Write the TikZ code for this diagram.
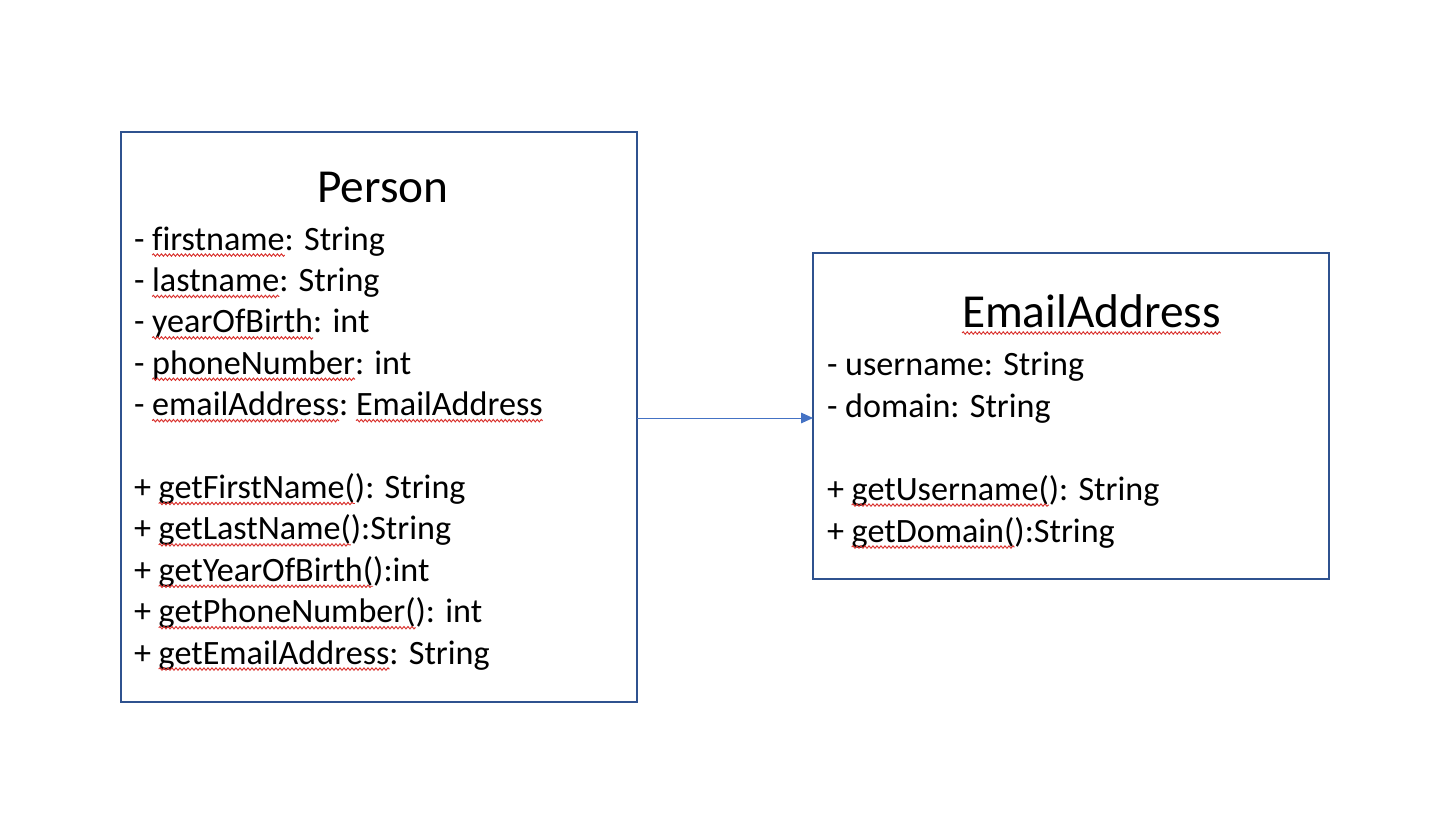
\documentclass[tikz,border=0pt]{standalone}
\usepackage{fontspec}
\setmainfont{Carlito}[Ligatures=CommonOff]
\usetikzlibrary{arrows.meta,decorations.pathmorphing}
\definecolor{boxblue}{HTML}{2F528F}
\definecolor{arrowblue}{HTML}{4472C4}
\definecolor{spellred}{HTML}{D9302C}
\tikzset{
  classbox/.style={draw=boxblue, line width=1.5pt, fill=white, inner sep=0pt, outer sep=0pt},
  txt/.style={anchor=base west, inner sep=0pt, outer sep=0pt, font=\fontsize{25.6}{30}\selectfont},
  titletxt/.style={anchor=base, inner sep=0pt, outer sep=0pt, font=\fontsize{35.5}{42}\selectfont},
  wave/.style={draw=spellred, line width=0.7pt, decorate, decoration={snake, segment length=3pt, amplitude=0.9pt}},
  assoc/.style={draw=arrowblue, line width=0.75pt, -{Triangle[length=9pt, width=8pt]}}
}
\newcommand\wln[6]{%
  \node[txt] (#1a) at (#2,#3) {#4};
  \node[txt] (#1b) at (#1a.base east) {#5};
  \node[txt] (#1c) at (#1b.base east) {#6};
  \draw[wave] ([yshift=-3.8pt]#1b.base west) -- ([yshift=-3.8pt]#1b.base east);
}
\newcommand\umlsp{\ \null}
\begin{document}
\begin{tikzpicture}[x=0.75pt, y=-0.75pt]
  \useasboundingbox[fill=white] (0,0) rectangle (1442,838);
  % boxes
  \node[classbox, minimum width=387pt, minimum height=427.5pt] (person) at (379,417) {};
  \node[classbox, minimum width=387pt, minimum height=244.5pt] (email) at (1071,416) {};
  % association
  \draw[assoc] ([yshift=-0.75pt]person.east) -- ([yshift=-0.75pt]person.east -| email.west);
  % Person
  \node[titletxt] (ptitle) at (383,203) {Person};
  \wln{pa}{134}{250}{-\umlsp}{firstname}{: String}
  \wln{pb}{134}{291.4}{-\umlsp}{lastname}{: String}
  \wln{pc}{134}{332.8}{-\umlsp}{yearOfBirth}{: int}
  \wln{pd}{134}{374.2}{-\umlsp}{phoneNumber}{: int}
  \wln{pe}{134}{415.6}{-\umlsp}{emailAddress}{:\umlsp}
  \node[txt] (ped) at (pec.base east) {EmailAddress};
  \draw[wave] ([yshift=-3.8pt]ped.base west) -- ([yshift=-3.8pt]ped.base east);
  \wln{ma}{134}{498.4}{+\umlsp}{getFirstName(}{): String}
  \wln{mb}{134}{539.8}{+\umlsp}{getLastName(}{):String}
  \wln{mc}{134}{581.2}{+\umlsp}{getYearOfBirth(}{):int}
  \wln{md}{134}{622.6}{+\umlsp}{getPhoneNumber(}{): int}
  \wln{me}{134}{664}{+\umlsp}{getEmailAddress}{: String}
  % EmailAddress
  \node[titletxt, anchor=base west] (etitle) at (962,327) {EmailAddress};
  \draw[wave] ([yshift=-4.5pt]etitle.base west) -- ([yshift=-4.5pt]etitle.base east);
  \node[txt] (ea) at (827,375) {- username: String};
  \node[txt] (eb) at (827,417) {- domain: String};
  \wln{fa}{827}{500}{+\umlsp}{getUsername(}{): String}
  \wln{fb}{827}{542}{+\umlsp}{getDomain(}{):String}
\end{tikzpicture}
\end{document}
